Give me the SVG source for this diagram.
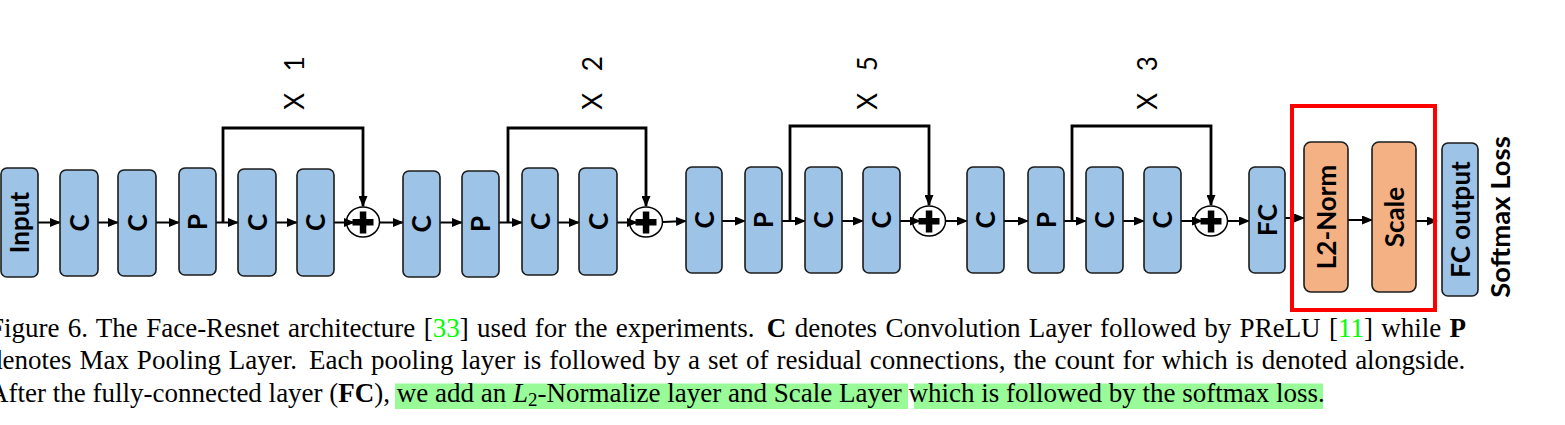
<svg xmlns="http://www.w3.org/2000/svg" width="1565" height="425" viewBox="0 0 1565 425">
<defs>
<marker id="ah" markerUnits="userSpaceOnUse" markerWidth="11" markerHeight="9" refX="10" refY="4.5" orient="auto"><path d="M0,0 L11,4.5 L0,9 z" fill="#000"/></marker>
<style>
.b{fill:#9dc3e6;stroke:#1c1c1c;stroke-width:1.6}
.o{fill:#f4b183;stroke:#1c1c1c;stroke-width:1.6}
.lb{font-family:Lato,"Open Sans",sans-serif;font-weight:bold;font-size:26px;fill:#000;text-anchor:middle}
.rep{font-family:Lato,"Open Sans",sans-serif;font-size:26px;fill:#000;text-anchor:middle}
.ar{fill:none;stroke:#000;stroke-width:2;marker-end:url(#ah)}
.sk{fill:none;stroke:#000;stroke-width:2.8;marker-end:url(#ah)}
.pc{fill:#fff;stroke:#000;stroke-width:1.5}
.cap{font-family:"Liberation Serif","Times New Roman",serif;font-size:27px;fill:#000}
.g{fill:#00ff00}
.hl{fill:#98fb98}
</style>
</defs>
<rect width="1565" height="425" fill="#fff"/>

<!-- repetition labels -->
<text class="rep" transform="translate(304,83) rotate(-90)" word-spacing="15">X 1</text>
<text class="rep" transform="translate(602,83) rotate(-90)" word-spacing="15">X 2</text>
<text class="rep" transform="translate(877,83) rotate(-90)" word-spacing="15">X 5</text>
<text class="rep" transform="translate(1157,83) rotate(-90)" word-spacing="15">X 3</text>

<!-- connectors -->
<g id="connectors">
<line class="ar" x1="38" y1="222.5" x2="60" y2="222.5"/>
<line class="ar" x1="98" y1="222.5" x2="118" y2="222.5"/>
<line class="ar" x1="156" y1="222.5" x2="179" y2="222.5"/>
<line class="ar" x1="216" y1="222.5" x2="238" y2="222.5"/>
<line class="ar" x1="276" y1="222.5" x2="297" y2="222.5"/>
<line class="ar" x1="380" y1="222.5" x2="403" y2="222.5"/>
<line class="ar" x1="440" y1="222.5" x2="462" y2="222.5"/>
<line class="ar" x1="499" y1="222.5" x2="522" y2="222.5"/>
<line class="ar" x1="558" y1="222.5" x2="579" y2="222.5"/>
<line class="ar" x1="663" y1="222" x2="686" y2="221"/>
<line class="ar" x1="722" y1="221" x2="745" y2="221"/>
<line class="ar" x1="782" y1="221" x2="805" y2="221"/>
<line class="ar" x1="842" y1="221" x2="863" y2="221"/>
<line class="ar" x1="946" y1="221" x2="967" y2="221"/>
<line class="ar" x1="1004" y1="221" x2="1028" y2="221"/>
<line class="ar" x1="1064" y1="221" x2="1086" y2="221"/>
<line class="ar" x1="1123" y1="221" x2="1144" y2="221"/>
<line class="ar" x1="1228" y1="221" x2="1249" y2="221"/>
<line class="ar" x1="1285" y1="218" x2="1304" y2="218"/>
<line class="ar" x1="1348" y1="220" x2="1372" y2="220"/>
<line class="ar" x1="1416" y1="221" x2="1437" y2="221"/>
<polyline class="sk" points="223,222.5 223,128 363,128 363,206"/>
<polyline class="sk" points="508,222.5 508,128 646,128 646,206"/>
<polyline class="sk" points="790,221 790,126 929,126 929,205"/>
<polyline class="sk" points="1072,221 1072,126 1211,126 1211,205"/>
</g>

<!-- adders -->
<g id="add1"><ellipse class="pc" cx="363" cy="222" rx="16.5" ry="15"/><rect x="352.5" y="219" width="21" height="6.5"/><rect x="359.8" y="211.5" width="6.5" height="22"/><line class="ar" x1="334" y1="222.5" x2="354" y2="222.5"/></g>
<g id="add2"><ellipse class="pc" cx="646" cy="222" rx="16.5" ry="15"/><rect x="635.5" y="219" width="21" height="6.5"/><rect x="642.8" y="211.5" width="6.5" height="22"/><line class="ar" x1="617" y1="222.5" x2="637" y2="222.5"/></g>
<g id="add3"><ellipse class="pc" cx="929" cy="221" rx="16.5" ry="15"/><rect x="918.5" y="218" width="21" height="6.5"/><rect x="925.8" y="210.5" width="6.5" height="22"/><line class="ar" x1="900" y1="221" x2="920" y2="221"/></g>
<g id="add4"><ellipse class="pc" cx="1211" cy="221" rx="16.5" ry="15"/><rect x="1200.5" y="218" width="21" height="6.5"/><rect x="1207.8" y="210.5" width="6.5" height="22"/><line class="ar" x1="1181" y1="221" x2="1202" y2="221"/></g>

<!-- nodes -->
<g id="input"><rect class="b" x="1" y="168" width="37" height="109" rx="6"/><text class="lb" transform="translate(29,222.5) rotate(-90)">Input</text></g>
<g id="c1"><rect class="b" x="60" y="170" width="38" height="106" rx="6"/><text class="lb" transform="translate(88.5,223) rotate(-90)">C</text></g>
<g id="c2"><rect class="b" x="118" y="170" width="38" height="106" rx="6"/><text class="lb" transform="translate(146.5,223) rotate(-90)">C</text></g>
<g id="p1"><rect class="b" x="179" y="168" width="37" height="107" rx="6"/><text class="lb" transform="translate(207,222) rotate(-90)">P</text></g>
<g id="c3"><rect class="b" x="238" y="169" width="38" height="107" rx="6"/><text class="lb" transform="translate(266.5,222.5) rotate(-90)">C</text></g>
<g id="c4"><rect class="b" x="297" y="169" width="37" height="107" rx="6"/><text class="lb" transform="translate(325,222.5) rotate(-90)">C</text></g>
<g id="c5"><rect class="b" x="403" y="171" width="37" height="106" rx="6"/><text class="lb" transform="translate(431,224) rotate(-90)">C</text></g>
<g id="p2"><rect class="b" x="462" y="171" width="37" height="106" rx="6"/><text class="lb" transform="translate(490,224) rotate(-90)">P</text></g>
<g id="c6"><rect class="b" x="522" y="168" width="36" height="107" rx="6"/><text class="lb" transform="translate(549.5,221.5) rotate(-90)">C</text></g>
<g id="c7"><rect class="b" x="579" y="168" width="38" height="107" rx="6"/><text class="lb" transform="translate(607.5,221.5) rotate(-90)">C</text></g>
<g id="c8"><rect class="b" x="686" y="167" width="36" height="106" rx="6"/><text class="lb" transform="translate(713.5,220) rotate(-90)">C</text></g>
<g id="p3"><rect class="b" x="745" y="167" width="37" height="106" rx="6"/><text class="lb" transform="translate(773,220) rotate(-90)">P</text></g>
<g id="c9"><rect class="b" x="805" y="167" width="37" height="106" rx="6"/><text class="lb" transform="translate(833,220) rotate(-90)">C</text></g>
<g id="c10"><rect class="b" x="863" y="167" width="37" height="106" rx="6"/><text class="lb" transform="translate(891,220) rotate(-90)">C</text></g>
<g id="c11"><rect class="b" x="967" y="167" width="37" height="106" rx="6"/><text class="lb" transform="translate(995,220) rotate(-90)">C</text></g>
<g id="p4"><rect class="b" x="1028" y="167" width="36" height="106" rx="6"/><text class="lb" transform="translate(1055.5,220) rotate(-90)">P</text></g>
<g id="c12"><rect class="b" x="1086" y="167" width="37" height="106" rx="6"/><text class="lb" transform="translate(1114,220) rotate(-90)">C</text></g>
<g id="c13"><rect class="b" x="1144" y="167" width="37" height="106" rx="6"/><text class="lb" transform="translate(1172,220) rotate(-90)">C</text></g>
<g id="fc"><rect class="b" x="1249" y="167" width="36" height="106" rx="6"/><text class="lb" transform="translate(1276.5,220) rotate(-90)">FC</text></g>
<g id="l2norm"><rect class="o" x="1304" y="142" width="44" height="150" rx="7"/><text class="lb" transform="translate(1335.5,217) rotate(-90)">L2-Norm</text></g>
<g id="scale"><rect class="o" x="1372" y="142" width="44" height="150" rx="7"/><text class="lb" transform="translate(1403.5,217) rotate(-90)">Scale</text></g>
<g id="fcoutput"><rect class="b" x="1442" y="143" width="36" height="153" rx="6"/><text class="lb" transform="translate(1469.5,219.5) rotate(-90)">FC output</text></g>
<g id="softmax"><text class="lb" style="font-size:27.5px" transform="translate(1510,217) rotate(-90)">Softmax Loss</text></g>

<!-- highlight box -->
<rect x="1292" y="106" width="143" height="204" fill="none" stroke="#ff0000" stroke-width="4"/>

<!-- caption -->
<rect class="hl" x="395" y="383.5" width="513" height="25.5"/>
<rect class="hl" x="914" y="383.5" width="409" height="25.5"/>
<text class="cap" x="-11" y="337" word-spacing="1.56">Figure 6. The Face-Resnet architecture [<tspan class="g">33</tspan>] used for the experiments. <tspan dx="4" font-weight="bold">C</tspan> denotes Convolution Layer followed by PReLU [<tspan class="g">11</tspan>] while <tspan font-weight="bold">P</tspan></text>
<text class="cap" x="-11" y="369" word-spacing="1.2">denotes Max Pooling Layer. <tspan dx="4">Each</tspan> pooling layer is followed by a set of residual connections, the count for which is denoted alongside.</text>
<text class="cap" x="-11" y="402">After the fully-connected layer (<tspan font-weight="bold">FC</tspan>), we add an <tspan font-style="italic">L</tspan><tspan font-size="19" dy="4">2</tspan><tspan dy="-4">-Normalize layer and Scale Layer which is followed by the softmax loss.</tspan></text>
</svg>
